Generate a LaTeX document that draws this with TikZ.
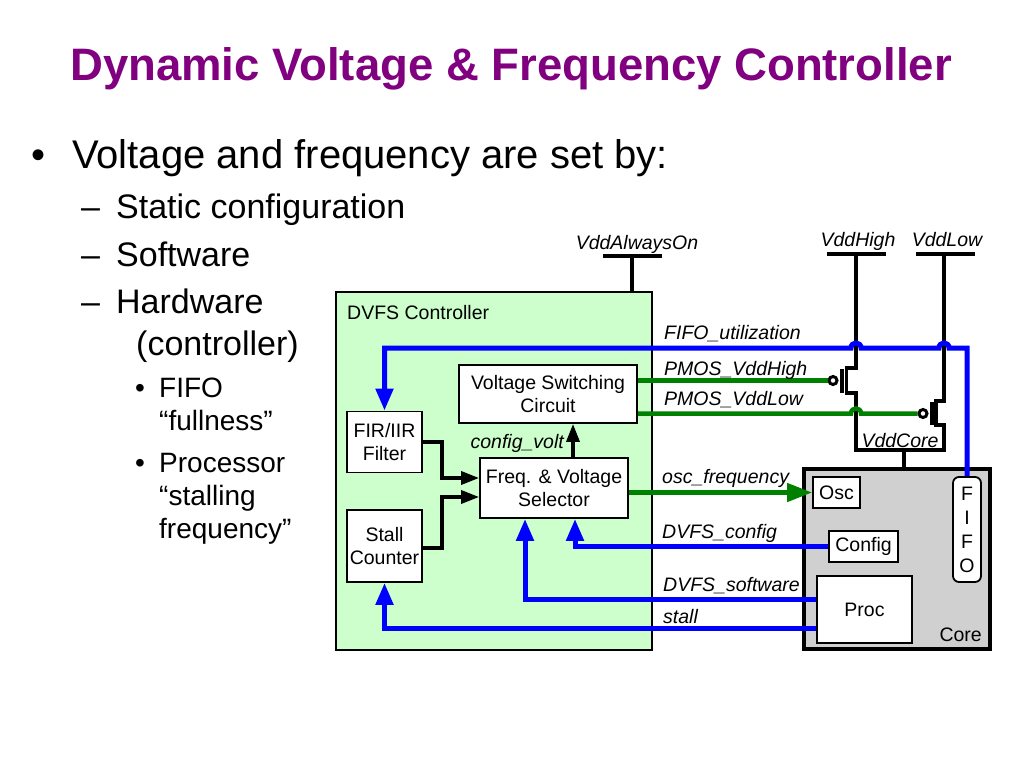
\documentclass[tikz,border=0pt]{standalone}
\usepackage{fontspec}
\setmainfont{Liberation Sans}
\usetikzlibrary{arrows.meta}
\definecolor{ttl}{RGB}{128,0,128}
\definecolor{ctrlgreen}{RGB}{204,255,204}
\definecolor{wgreen}{RGB}{0,128,0}
\definecolor{coregray}{RGB}{208,208,208}
\begin{document}
\begin{tikzpicture}[x=1pt,y=-1pt,
  dfnt/.style={font=\fontsize{19.5}{23.5}\selectfont},
  lbl/.style={font=\fontsize{19.5}{23.5}\selectfont\itshape, inner sep=0pt, anchor=base west},
  plain/.style={font=\fontsize{19.5}{23.5}\selectfont, inner sep=0pt, anchor=base west},
  box/.style={draw=black, line width=1.8pt, fill=white, font=\fontsize{19.5}{23.5}\selectfont, align=center, inner sep=0pt},
  lone/.style={font=\fontsize{40}{48}\selectfont, inner sep=0pt, anchor=base west},
  ltwo/.style={font=\fontsize{34}{41}\selectfont, inner sep=0pt, anchor=base west},
  lthree/.style={font=\fontsize{28}{33}\selectfont, inner sep=0pt, anchor=base west},
  bluew/.style={draw=blue, line width=5pt},
  greenw/.style={draw=wgreen, line width=4.5pt},
  blk/.style={draw=black, line width=3.5pt},
  wire/.style={draw=black, line width=3.2pt},
  btip/.style={-{Triangle[length=22pt,width=17pt]}},
  gtip/.style={-{Triangle[length=25pt,width=18pt]}},
  ktip/.style={-{Triangle[length=18pt,width=13pt]}},
  bubble/.style={circle, draw=black, line width=3pt, fill=white, minimum size=8pt, inner sep=0pt}
]
\fill[white] (0,0) rectangle (1024,768);
\useasboundingbox (0,0) rectangle (1024,768);

% title and bullets
\node[anchor=base, font=\fontsize{45.5}{54}\selectfont\bfseries, text=ttl, inner sep=0pt] (title) at (511,81) {Dynamic Voltage \& Frequency Controller};
\node[lone] (bu1) at (31,168) {•};
\node[lone] (tx1) at (72,168) {Voltage and frequency are set by:};
\node[ltwo] (da1) at (81,218) {–};
\node[ltwo] (tx2) at (116,218) {Static configuration};
\node[ltwo] (da2) at (81,266) {–};
\node[ltwo] (tx3) at (116,266) {Software};
\node[ltwo] (da3) at (81,313) {–};
\node[ltwo] (tx4) at (116,313) {Hardware};
\node[ltwo] (tx5) at (136,355) {(controller)};
\node[lthree] (bu2) at (135,397) {•};
\node[lthree] (tx6) at (159,397) {FIFO};
\node[lthree] (tx7) at (159,430) {“fullness”};
\node[lthree] (bu3) at (135,472) {•};
\node[lthree] (tx8) at (159,472) {Processor};
\node[lthree] (tx9) at (159,505) {“stalling};
\node[lthree] (tx10) at (159,538) {frequency”};

% big boxes
\node[draw=black, line width=1.5pt, fill=ctrlgreen, minimum width=316pt, minimum height=358pt, inner sep=0pt] (ctrl) at (494,471) {};
\node[plain] (ctrllbl) at (347,319) {DVFS Controller};
\node[draw=black, line width=3.5pt, fill=coregray, minimum width=186pt, minimum height=180pt, inner sep=0pt] (core) at (897,559) {};
\node[dfnt, inner sep=0pt, anchor=base east] (corelbl) at (982,641) {Core};

% inner boxes
\node[box, minimum width=75pt, minimum height=61pt] (fir) at (384.5,442) {FIR/IIR\\Filter};
\node[box, minimum width=75pt, minimum height=72pt] (stall) at (384.5,546) {Stall\\Counter};
\node[box, minimum width=178pt, minimum height=58pt] (vsc) at (548,394) {Voltage Switching\\Circuit};
\node[box, minimum width=148pt, minimum height=60pt] (sel) at (554,488) {Freq. \& Voltage\\Selector};
\node[box, minimum width=47pt, minimum height=31pt] (osc) at (836.5,492.5) {Osc};
\node[box, minimum width=69pt, minimum height=31pt] (config) at (863.5,546.5) {Config};
\node[box, minimum width=95pt, minimum height=67pt] (proc) at (864.5,609.5) {Proc};
\node[box, rounded corners=6pt, minimum width=28pt, minimum height=105pt, font=\fontsize{19.5}{24}\selectfont] (fifo) at (967,529.5) {F\\I\\F\\O};

% supply rails
\node[lbl, anchor=base] (vaolbl) at (637,249) {VddAlwaysOn};
\node[lbl, anchor=base] (vhlbl) at (858,246) {VddHigh};
\node[lbl, anchor=base] (vllbl) at (947,246) {VddLow};
\node[lbl, anchor=base] (vclbl) at (900,447) {VddCore};
\coordinate (vao) at (632,256);
\draw[wire] (603,256) -- (662,256);
\draw[wire] (vao) -- (vao |- ctrl.north);
\draw[wire] (827,254) -- (886,254);
\draw[wire] (916,254) -- (975,254);

% transistor network
\draw[wire] (856,254) -- (856,368) -- (846.5,368) -- (846.5,393) -- (856,393) -- (856,450)
   -- (944,450) -- (944,425) -- (936,425) -- (936,401) -- (944,401) -- (944,254);
\draw[wire] (842,369) -- (842,393);
\draw[wire] (932,402) -- (932,425);
\node[bubble] (bub1) at (833,380.5) {};
\node[bubble] (bub2) at (923,413.5) {};
\coordinate (vc) at (904,450);
\draw[wire] (vc) -- (vc |- core.north);

% green wires
\draw[greenw] (vsc.east |- bub1) -- (bub1.west);
\draw[greenw] (vsc.east |- bub2) -- (851,413.5) .. controls (851,406.8) and (861,406.8) .. (861,413.5) -- (bub2.west);
\draw[greenw, gtip] (sel.east |- osc.west) -- (osc.west);

% blue wires
\draw[bluew, btip] (fifo.north) -- (967,348) -- (949,348) .. controls (949,341.3) and (939,341.3) .. (939,348)
   -- (861,348) .. controls (861,341.3) and (851,341.3) .. (851,348) -- (384.5,348) -- (fir.north);
\draw[bluew, btip] (config.west) -| ([xshift=21pt]sel.south);
\draw[bluew, btip] ([yshift=10.5pt]proc.west) -| ([xshift=-29pt]sel.south);
\draw[bluew, btip] ([yshift=-18.5pt]proc.west) -| (stall.south);

% black arrows
\draw[blk, ktip] (fir.east) -- ++(19,0) |- ([yshift=10pt]sel.west);
\draw[blk, ktip] ([yshift=-2pt]stall.east) -- ++(19,0) |- ([yshift=-9pt]sel.west);
\coordinate (cv) at ([xshift=19pt]sel.north);
\draw[blk, ktip] (cv) -- (cv |- vsc.south);

% signal labels
\node[lbl] (l1) at (664,339) {FIFO\_utilization};
\node[lbl] (l2) at (664,375) {PMOS\_VddHigh};
\node[lbl] (l3) at (664,405) {PMOS\_VddLow};
\node[lbl] (l4) at (662,483) {osc\_frequency};
\node[lbl] (l5) at (662,538) {DVFS\_config};
\node[lbl] (l6) at (663,591) {DVFS\_software};
\node[lbl] (l7) at (663,623) {stall};
\node[lbl, anchor=base east] (l8) at (564,448) {config\_volt};
\end{tikzpicture}
\end{document}
